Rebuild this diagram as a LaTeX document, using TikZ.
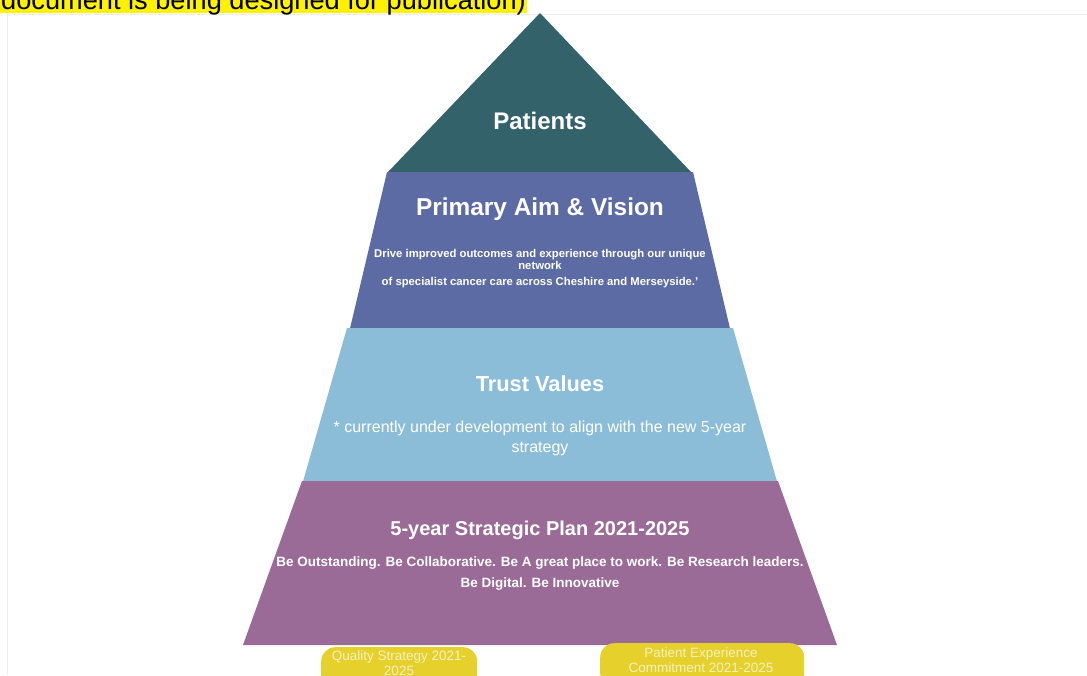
\documentclass[tikz,border=0pt]{standalone}
\usepackage{fontspec}
\setmainfont{Liberation Sans}
\usetikzlibrary{positioning}
\definecolor{CtopA}{HTML}{33626A}
\definecolor{CaimA}{HTML}{5D6BA4}
\definecolor{CvalA}{HTML}{8BBDD8}
\definecolor{CplanA}{HTML}{9B6B98}
\definecolor{CpillA}{HTML}{E6D02C}
\definecolor{CpillT}{HTML}{F6F0C0}
\definecolor{CframeA}{HTML}{EDEDED}
\tikzset{
bighead/.style={text=white, font=\bfseries\fontsize{#1}{#1}\selectfont, inner sep=0},
smalltxt/.style={text=white, align=center, inner sep=0},
pill/.style={fill=CpillA, rounded corners=14pt, inner sep=0},
pilltxt/.style={text=CpillT, align=center, inner sep=0, font=\fontsize{13.5}{15}\selectfont},
}

\begin{document}
\begin{tikzpicture}[x=1pt,y=-1pt]
\useasboundingbox (0,0) rectangle (1087,675);
\clip (0,0) rectangle (1087,675);

%% Definitions
\pgfmathsetmacro{\cx}{540}

\newcommand\drawlayer[5]
{
% colour: #1
% top y, top half width: #2, #3
% bottom y, bottom half width: #4, #5
\fill[#1] (\cx-#3,#2) -- (\cx+#3,#2) -- (\cx+#5,#4) -- (\cx-#5,#4) -- cycle;
}

% --------------------------------------------------------

%% page frame and note
\draw[CframeA] (7,675) -- (7,14) -- (1087,14);
\node[fill=yellow, inner xsep=1pt, inner ysep=0, text depth=3.4pt, anchor=base west,
  font=\fontsize{27.2}{28}\selectfont] (note) at (0,9.5) {document is being designed for publication)};

% --------------------------------------------------------

%% pyramid
\fill[CtopA] (\cx,13) -- (\cx+151,172) -- (\cx-152,172) -- cycle;
\drawlayer{CaimA}{172}{153}{328.5}{190}
\drawlayer{CvalA}{328}{193}{481.5}{237}
\drawlayer{CplanA}{481}{238}{645}{297}

%% top
\node[bighead=24] (patients) at (\cx,121) {Patients};

%% aim
\node[bighead=24.4] (aim) at (\cx,209) {Primary Aim \& Vision};
\node[smalltxt, font=\bfseries\fontsize{11.3}{11.5}\selectfont] (aimtxt) at (\cx,268.5)
{Drive improved outcomes and experience through our unique\\network\\[4.5pt]
of specialist cancer care across Cheshire and Merseyside.'};

%% values
\node[bighead=21.8] (values) at (\cx,384) {Trust Values};
\node[smalltxt, font=\fontsize{16}{20}\selectfont] (valtxt) at (\cx,438)
{* currently under development to align with the new 5-year\\strategy};

%% plan
\node[bighead=20] (plan) at (\cx,530) {5-year Strategic Plan 2021-2025};
\node[smalltxt, font=\bfseries\fontsize{13.5}{21}\selectfont] (plantxt) at (\cx,573.5)
{Be Outstanding. Be Collaborative. Be A great place to work. Be Research leaders.\\
Be Digital. Be Innovative};

% --------------------------------------------------------

%% strategies below the base
\node[pill, minimum width=156pt, minimum height=42pt, anchor=north west] (quality) at (321,647) {};
\node[pilltxt] (qualitytxt) at (399,663) {Quality Strategy 2021-\\2025};
\node[pill, minimum width=204pt, minimum height=44pt, anchor=north west] (patexp) at (600,643) {};
\node[pilltxt] (patexptxt) at (701,660.5) {Patient Experience\\Commitment 2021-2025};
\end{tikzpicture}
\end{document}
